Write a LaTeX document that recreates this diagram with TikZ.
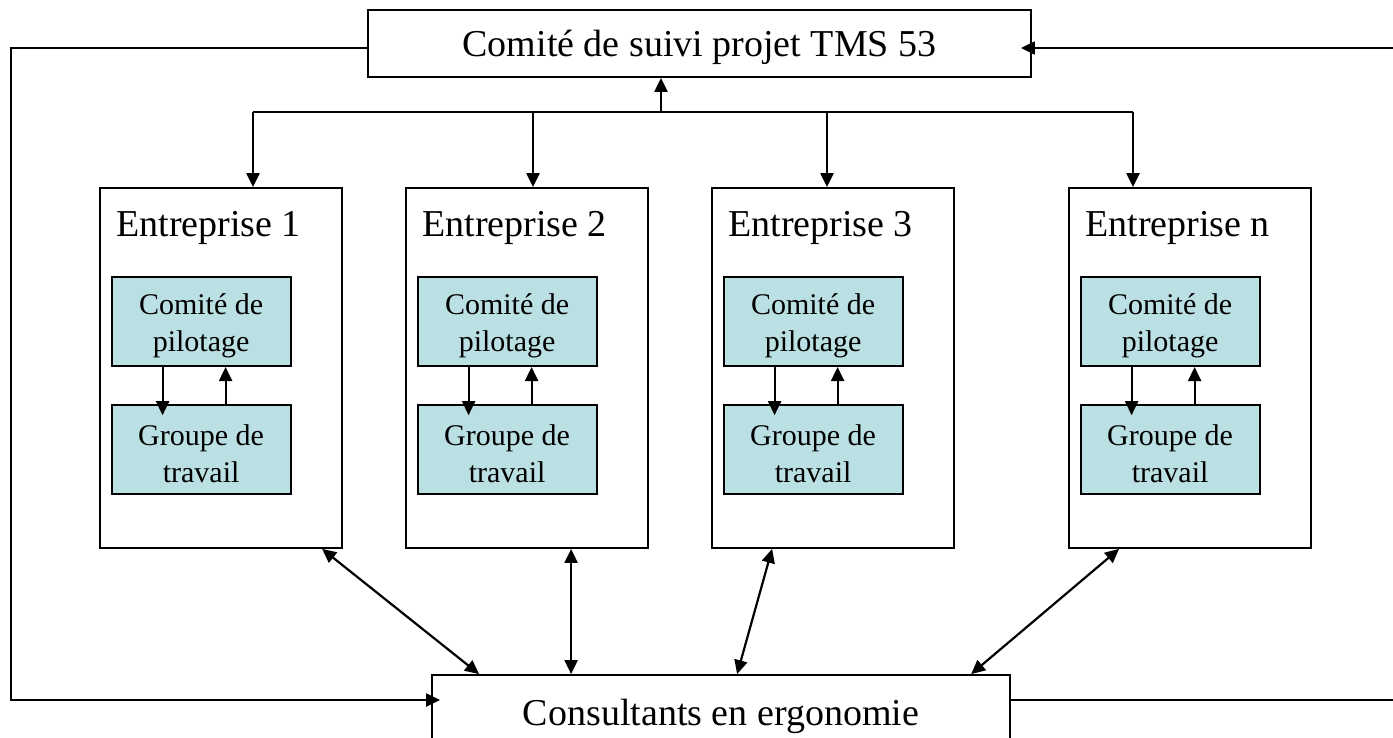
\documentclass[tikz,border=0pt]{standalone}
\usepackage{fontspec}
\setmainfont{Liberation Serif}
\usetikzlibrary{arrows.meta,calc}
\definecolor{innerfill}{RGB}{187,224,227}
\begin{document}
\begin{tikzpicture}[x=1pt,y=-1pt,
  box/.style={draw=black, line width=1.8pt, fill=white, inner sep=0pt},
  topbox/.style={box, minimum width=663pt, minimum height=67pt, font=\fontsize{38}{44}\selectfont, text height=25pt, text depth=0pt},
  consbox/.style={box, minimum width=578pt, minimum height=74pt, font=\fontsize{38}{44}\selectfont, text height=26pt, text depth=0pt},
  entbox/.style={box, minimum width=242pt, minimum height=360pt},
  enttitle/.style={font=\fontsize{38}{44}\selectfont, inner sep=0pt, anchor=base west},
  innerbox/.style={draw=black, line width=1.8pt, fill=innerfill, minimum width=179pt, minimum height=89pt, inner sep=0pt},
  innertext/.style={align=center, inner sep=0pt, font=\fontsize{30}{37}\selectfont},
  tip/.tip={Triangle[length=14pt,width=13pt]},
  arr/.style={line width=2.2pt, -tip},
  darr/.style={line width=2.2pt, tip-tip},
  conn/.style={line width=2.2pt}
]
\useasboundingbox (0,0) rectangle (1393,737);
\clip (0,0) rectangle (1393,737);

\node[topbox] (top) at (699.5,43.5) {Comité de suivi projet TMS 53};
\node[consbox] (cons) at (721,712) {Consultants en ergonomie};

\foreach \n/\L/\ta in {1/100/253,2/406/533,3/712/827,n/1069/1133}{
  \node[entbox] (e\n) at (\L+121,368) {};
  \node[enttitle] (t\n) at ([xshift=17pt,yshift=-49pt]e\n.north west) {Entreprise \n};
  \node[innerbox] (c\n) at ([xshift=102pt,yshift=-134.5pt]e\n.north west) {};
  \node[innertext] (ct\n) at ([yshift=-4pt]c\n.center) {Comité de\\pilotage};
  \node[innerbox] (g\n) at ([xshift=102pt,yshift=-262.5pt]e\n.north west) {};
  \node[innertext] (gt\n) at ([yshift=-4pt]g\n.center) {Groupe de\\travail};
  \draw[arr, shorten >=-11pt] ([xshift=-38.5pt]c\n.south) -- ([xshift=-38.5pt]g\n.north);
  \draw[arr] ([xshift=24.5pt]g\n.north) -- ([xshift=24.5pt]c\n.south);
  \coordinate (d\n) at (\ta,112);
  \draw[arr] (d\n) -- (d\n |- e\n.north);
}

% distribution line from the top committee
\draw[conn] (d1) -- (dn);
\coordinate (u) at (661,112);
\draw[arr] (u) -- (u |- top.south);

% outer loop left
\coordinate (lt) at (11,48);
\coordinate (lb) at (11,700);
\draw[arr, shorten >=-9pt] ([yshift=-4.5pt]top.west) -- (lt) -- (lb) -- ([yshift=12pt]cons.west);

% outer loop right (runs off the page)
\coordinate (rt) at (1400,48);
\coordinate (rb) at (1400,700);
\draw[conn] ([yshift=12pt]cons.east) -- (rb);
\draw[arr, shorten >=-11pt] (rt) -- ([yshift=-4.5pt]top.east);

% enterprises <-> consultants
\draw[darr] ([xshift=223pt]e1.south west) -- ([xshift=48pt]cons.north west);
\draw[darr] ([xshift=166pt]e2.south west) -- ([xshift=140pt]cons.north west);
\draw[darr] ([xshift=61pt]e3.south west) -- ([xshift=306pt]cons.north west);
\draw[darr] ([xshift=51pt]en.south west) -- ([xshift=540pt]cons.north west);
\end{tikzpicture}
\end{document}
